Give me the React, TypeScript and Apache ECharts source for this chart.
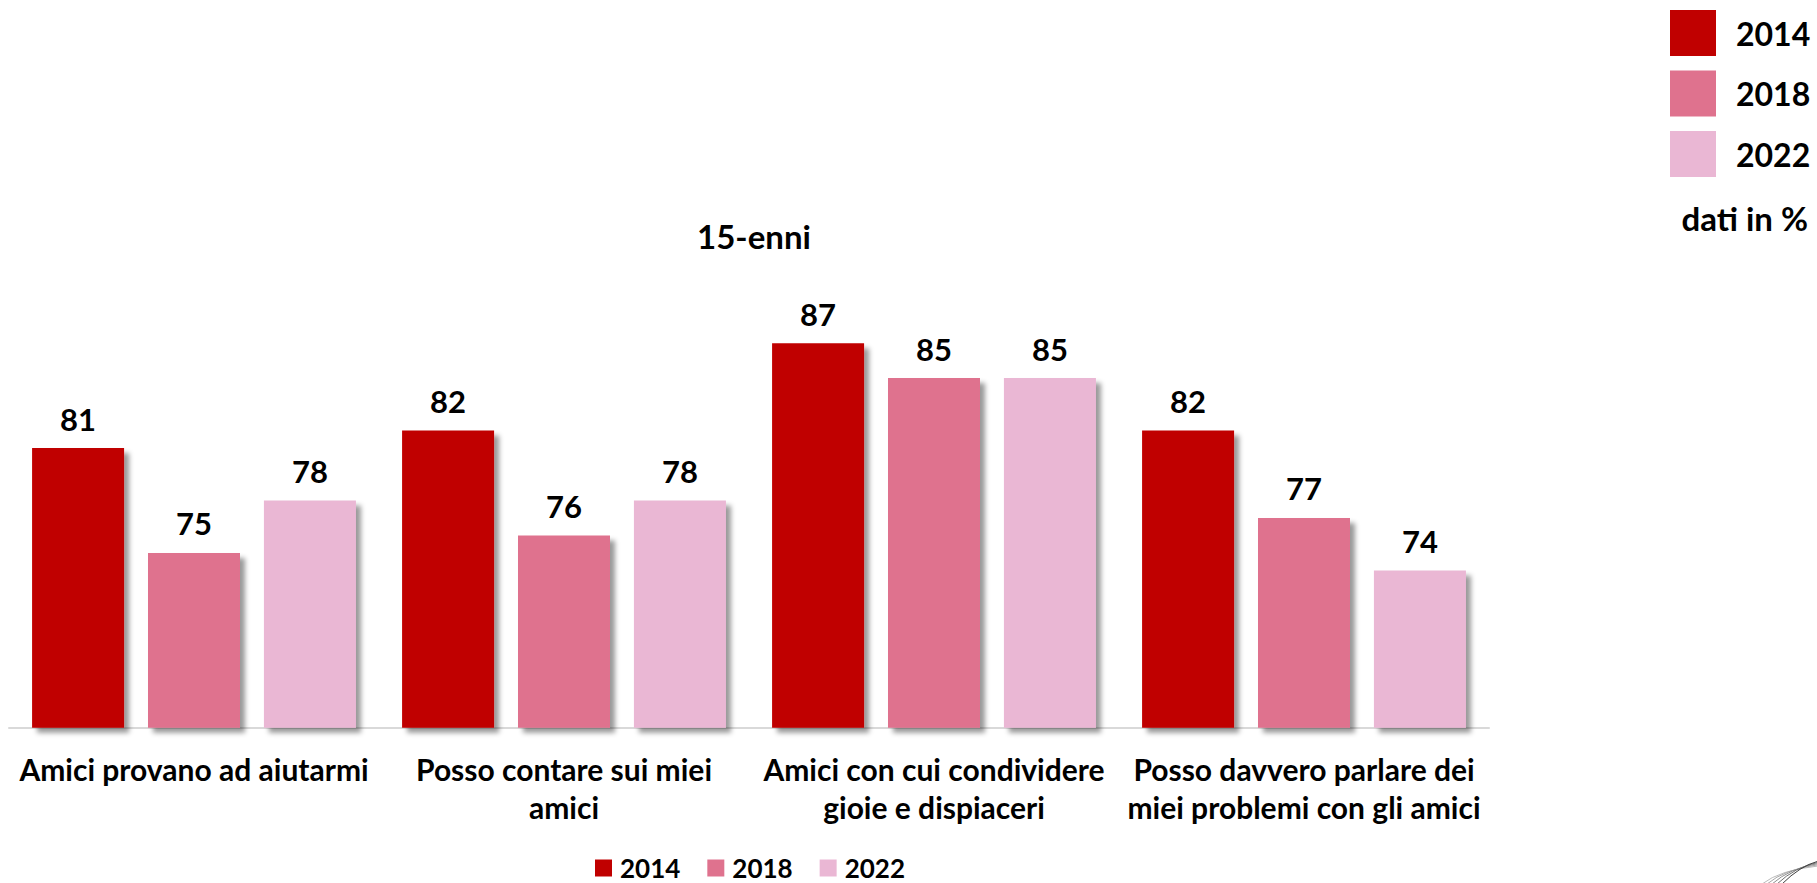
import React, { useEffect, useRef } from "react";
import * as echarts from "echarts";

const categories = [
  "Amici provano ad aiutarmi",
  "Posso contare sui miei\namici",
  "Amici con cui condividere\ngioie e dispiaceri",
  "Posso davvero parlare dei\nmiei problemi con gli amici",
];
const years = ["2014", "2018", "2022"];
const values2014 = [81, 82, 87, 82];
const values2018 = [75, 76, 85, 77];
const values2022 = [78, 78, 85, 74];
const colors = ["#C00000", "#DF728E", "#EAB7D4"];
const chartTitle = "15-enni";
const unitNote = "dati in %";

const FONT = "Lato, 'Open Sans', sans-serif";

export default function App() {
  const ref = useRef<HTMLDivElement>(null);
  useEffect(() => {
    if (!ref.current) return;
    const chart = echarts.init(ref.current, null, { renderer: "svg" });
    const seriesData = [values2014, values2018, values2022];
    const shadow = {
      shadowColor: "rgba(0,0,0,0.4)",
      shadowBlur: 5,
      shadowOffsetX: 5,
      shadowOffsetY: 5,
    };
    const legendBoxes: any[] = [];
    years.forEach((y, i) => {
      legendBoxes.push({
        type: "rect",
        shape: { x: 1670, y: 10 + i * 60.5, width: 46, height: 46 },
        style: { fill: colors[i] },
      });
      legendBoxes.push({
        type: "text",
        x: 1736,
        y: 33 + i * 60.5,
        style: {
          text: y,
          font: `bold 32px ${FONT}`,
          fill: "#000",
          textVerticalAlign: "middle",
          verticalAlign: "middle",
        },
      });
    });
    legendBoxes.push({
      type: "text",
      x: 1808,
      y: 218,
      style: {
        text: unitNote,
        font: `bold 33px ${FONT}`,
        fill: "#000",
        align: "right",
        textAlign: "right",
        verticalAlign: "middle",
        textVerticalAlign: "middle",
      },
    });
    // decorative swoosh at bottom-right corner
    const swoosh: any[] = [];
    const grays = ["#bbbbbb", "#a8a8a8", "#909090", "#707070", "#404040"];
    for (let k = 0; k < 5; k++) {
      swoosh.push({
        type: "bezierCurve",
        shape: {
          x1: 1762 + k * 5,
          y1: 884,
          cpx1: 1780 + k * 5,
          cpy1: 870 - k * 1,
          x2: 1818,
          y2: 866 - k * 1.2,
        },
        style: { stroke: grays[k], lineWidth: 1, fill: null },
      });
    }
    const option: any = {
      animation: false,
      title: {
        text: chartTitle,
        left: 749,
        top: 214,
        textAlign: "center",
        textStyle: { fontFamily: FONT, fontWeight: "bold", fontSize: 33, color: "#000" },
      },
      legend: {
        data: years,
        left: 595,
        top: 855,
        padding: 0,
        itemWidth: 17,
        itemHeight: 17,
        itemGap: 27,
        icon: "rect",
        textStyle: {
          fontFamily: FONT,
          fontWeight: "bold",
          fontSize: 26,
          lineHeight: 20,
          color: "#000",
          padding: [0, 0, 0, 3],
        },
      },
      grid: { left: 9, width: 1480, top: 290.7, bottom: 155.3, containLabel: false },
      xAxis: {
        type: "category",
        data: categories,
        axisLine: { lineStyle: { color: "#D9D9D9", width: 2 } },
        axisTick: { show: false },
        axisLabel: {
          interval: 0,
          margin: 22,
          fontFamily: FONT,
          fontWeight: "bold",
          fontSize: 30,
          lineHeight: 38,
          color: "#000",
        },
      },
      yAxis: {
        type: "value",
        min: 65,
        max: 90,
        show: false,
        splitLine: { show: false },
      },
      graphic: [...legendBoxes, ...swoosh],
      series: years.map((y, i) => ({
        name: y,
        type: "bar",
        data: seriesData[i],
        barWidth: 92,
        barGap: "26%",
        itemStyle: { color: colors[i], ...shadow },
        label: {
          show: true,
          position: "top",
          distance: 14,
          fontFamily: FONT,
          fontWeight: "bold",
          fontSize: 31,
          color: "#000",
        },
      })),
    };
    chart.setOption(option);
    return () => chart.dispose();
  }, []);
  return (
    <div
      ref={ref}
      style={{ position: "fixed", left: 0, top: 0, width: 1817, height: 883, background: "#fff" }}
    />
  );
}
